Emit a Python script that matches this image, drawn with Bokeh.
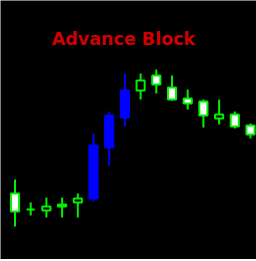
from bokeh.plotting import figure
from bokeh.models import Label, ColumnDataSource, Range1d, GlobalInlineStyleSheet
from bokeh.embed import file_html
from bokeh.resources import INLINE

# Candle data (price units)
idx    = list(range(16))
opens  = [57, 41, 40, 44, 48, 52, 103, 133, 160, 175, 163, 152, 149, 132, 136, 125]
highs  = [71, 48, 53, 53, 57, 117, 139, 177, 177, 181, 175, 161, 151, 151, 139, 127]
lows   = [24, 35, 33, 33, 33, 49, 85, 124, 151, 157, 150, 141, 123, 126, 122, 112]
closes = [39, 41, 44, 46, 52, 105, 135, 160, 170, 166, 151, 147, 135, 136, 124, 116]
pattern = [5, 6, 7]  # Advance Block candles
title_text = "Advance Block"

GREEN = "#00f000"
BLUE = "#0000ff"

line_col, fill_col, top, bottom = [], [], [], []
for i, o, c in zip(idx, opens, closes):
    top.append(max(o, c))
    bottom.append(min(o, c))
    if i in pattern:
        line_col.append(BLUE)
        fill_col.append(BLUE)
    else:
        line_col.append(GREEN)
        fill_col.append("#ffffff" if c < o else "#000000")

src = ColumnDataSource(dict(x=idx, high=highs, low=lows, top=top, bottom=bottom,
                            lc=line_col, fc=fill_col))

p = figure(width=256, height=259, output_backend="svg", toolbar_location=None,
           x_range=Range1d(-0.924, 15.382), y_range=Range1d(-9, 250),
           min_border=0, background_fill_color="black", border_fill_color="black",
           outline_line_color=None)
p.axis.visible = False
p.grid.visible = False

p.segment(x0="x", x1="x", y0="low", y1="high", source=src, line_color="lc", line_width=2)
p.vbar(x="x", width=0.52, top="top", bottom="bottom", source=src,
       fill_color="fc", line_color="lc", line_width=2)

p.add_layout(Label(x=123, y=221, x_units="screen", y_units="screen", text=title_text,
                   text_align="center", text_baseline="alphabetic",
                   text_font="DejaVu Sans", text_font_style="bold",
                   text_font_size="17.5px", text_color="#d00000"))

p.stylesheets = [GlobalInlineStyleSheet(css="body{margin:0;}")]

open("out.html", "w").write(file_html(p, INLINE))
